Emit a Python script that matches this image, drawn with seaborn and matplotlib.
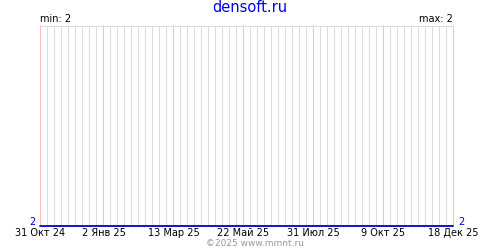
import matplotlib
matplotlib.use("Agg")
import matplotlib.pyplot as plt
import seaborn as sns
import pandas as pd

# data
dates = ["2024-10-31", "2025-12-18"]
values = [2, 2]
tick_dates = ["2024-10-31", "2025-01-02", "2025-03-13", "2025-05-22",
              "2025-07-31", "2025-10-09", "2025-12-18"]
tick_labels = ["31 Окт 24", "2 Янв 25", "13 Мар 25", "22 Май 25",
               "31 Июл 25", "9 Окт 25", "18 Дек 25"]
title = "densoft.ru"
min_label = "min: 2"
max_label = "max: 2"
footer = "©2025 www.mmnt.ru"

sns.set_theme(style="white")
plt.rcParams['font.family'] = ['DejaVu Sans']

df = pd.DataFrame({"date": pd.to_datetime(dates), "value": values})

fig = plt.figure(figsize=(5, 2.5), dpi=100)
ax = fig.add_axes([40.5/500, 1-225.5/250, 413/500, 200/250])

start = pd.Timestamp(dates[0])
end = pd.Timestamp(dates[-1])

px = 0.72

weeks = pd.date_range(start, end, freq="7D")
major = pd.to_datetime(tick_dates)
major_set = set(major)
for w in weeks:
    if w in major_set:
        continue
    ax.axvline(w, color="#dcdcdc", lw=px, zorder=1, snap=False)
for m in major:
    ax.axvline(m, color="#ffbcbc", lw=px, zorder=2, clip_on=False, snap=False)

sns.lineplot(data=df, x="date", y="value", ax=ax, color="#0000cc", lw=1.3,
             zorder=5, clip_on=False)

ax.set_xlim(start, end)
ax.set_ylim(2, 3)
ax.set_xticks(major)
ax.set_xticklabels(tick_labels, fontsize=7, color="black")
ax.tick_params(axis="x", length=0, pad=1.5)
ax.set_yticks([])
ax.set_xlabel("")
ax.set_ylabel("")
for s in ["left", "right", "bottom"]:
    ax.spines[s].set_visible(False)
ax.spines["top"].set_color("#dcdcdc")
ax.spines["top"].set_linewidth(px)
ax.grid(False)

fig.text(0.5, 1-8/250, title, ha="center", va="center", fontsize=10.5, color="#0000ee")
fig.text(40/500, 1-19/250, min_label, ha="left", va="center", fontsize=7, color="black")
fig.text(453/500, 1-19/250, max_label, ha="right", va="center", fontsize=7, color="black")
fig.text(36/500, 1-222/250, "2", ha="right", va="center", fontsize=7, color="#0000cc")
fig.text(458/500, 1-222/250, "2", ha="left", va="center", fontsize=7, color="#0000cc")
fig.text(255.5/500, 1-243/250, footer, ha="center", va="center", fontsize=6.5, color="#999999")

fig.savefig("out.png", dpi=100)
